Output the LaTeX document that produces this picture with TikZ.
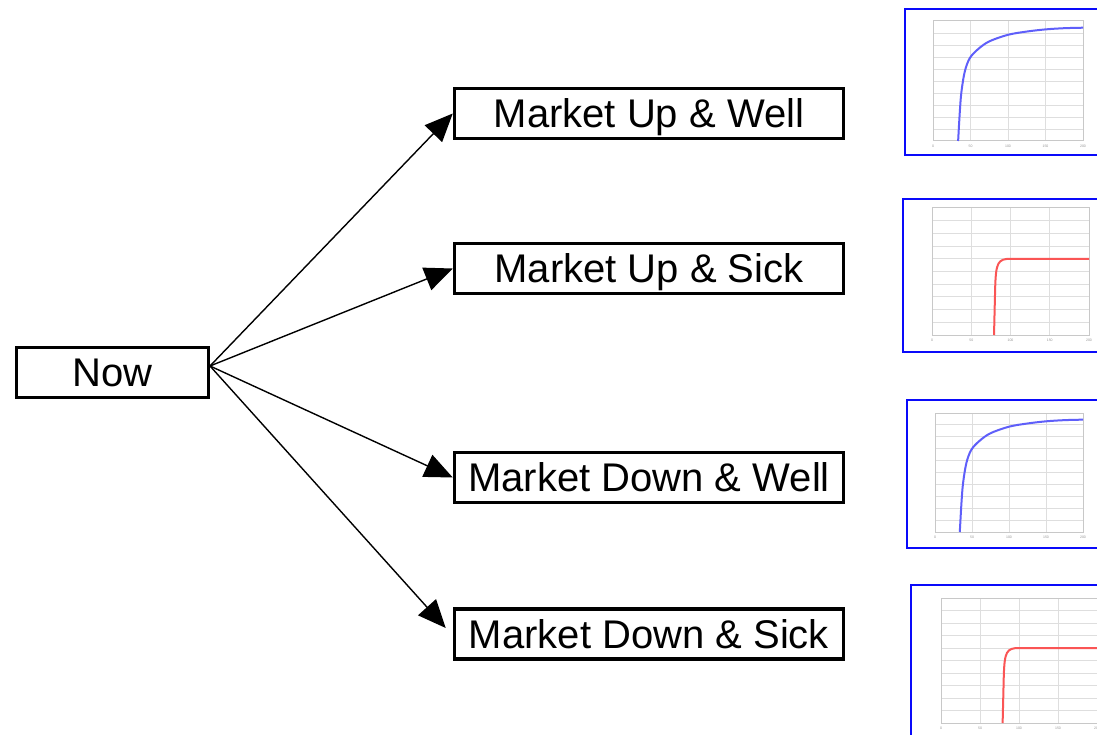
\documentclass[tikz,border=0pt]{standalone}
\usepackage{fontspec}
\setmainfont{Liberation Sans}
\usetikzlibrary{arrows.meta}

\definecolor{framecol}{RGB}{10,10,250}
\definecolor{gridcol}{RGB}{222,222,222}
\definecolor{axiscol}{RGB}{200,200,200}
\definecolor{bluecurve}{RGB}{95,95,250}
\definecolor{redcurve}{RGB}{250,85,85}
\definecolor{tickcol}{RGB}{150,150,150}

\tikzset{
  statebox/.style={draw=black, line width=3.5pt, fill=white, inner sep=0pt,
    minimum height=50pt, font=\fontsize{40}{44}\selectfont,
    text height=28.6pt, text depth=0pt},
  branch/.style={line width=1.4pt, -{Triangle[length=28pt,width=24pt]}},
  chartframe/.style={draw=framecol, line width=2.2pt, fill=white},
  chartgrid/.style={draw=gridcol, line width=0.9pt},
  chartaxes/.style={draw=axiscol, line width=1pt},
  ticklab/.style={font=\fontsize{3.5}{4}\selectfont, text=tickcol, inner sep=0pt},
}

% Utility chart: #1,#2 = lower-left corner of the plot area (px),
% #3 = x scale (pt per unit, x in 0..200), #4 = y scale (pt per unit, y in 0..1),
% #5 = curve drawn inside the plot area
\newcommand\utilchart[5]{%
  \begin{scope}[shift={(#1pt,-#2pt)}, x=#3pt, y=#4pt]
    \foreach \gx in {50,100,150} \draw[chartgrid] (\gx,0) -- (\gx,1);
    \foreach \gy in {0.1,0.2,0.3,0.4,0.5,0.6,0.7,0.8,0.9} \draw[chartgrid] (0,\gy) -- (200,\gy);
    \draw[chartaxes] (0,0) rectangle (200,1);
    \foreach \t in {0,50,100,150,200} \node[ticklab] at (\t,-0.045) {\t};
    #5
  \end{scope}}

\begin{document}
\begin{tikzpicture}[x=1pt, y=-1pt]
  \useasboundingbox (0,0) rectangle (1097,735);

  % decision nodes
  \node[statebox, minimum width=192pt] (now) at (112.5,372.5) {Now};
  \node[statebox, minimum width=389pt] (upwell)   at (649,113.5) {Market Up \& Well};
  \node[statebox, minimum width=389pt] (upsick)   at (649,268.5) {Market Up \& Sick};
  \node[statebox, minimum width=389pt] (downwell) at (649,477.5) {Market Down \& Well};
  \node[statebox, minimum width=389pt] (downsick) at (649,634)   {Market Down \& Sick};

  % branches fanning out from the right side of "Now"
  \coordinate (hub) at (210,366);
  \draw[branch] (hub) -- (upwell.west);
  \draw[branch] (hub) -- (upsick.west);
  \draw[branch] (hub) -- (downwell.west);
  \draw[branch] (hub) -- ([xshift=-7pt,yshift=6pt]downsick.west);

  % chart frames
  \draw[chartframe] (905,9)   rectangle (1110,155);
  \draw[chartframe] (903,199) rectangle (1110,352);
  \draw[chartframe] (907,400) rectangle (1110,548);
  \draw[chartframe] (911,585) rectangle (1110,750);

  % utility curves
  \utilchart{933}{141}{0.75}{120}{%
    \draw[bluecurve, line width=2pt, smooth, tension=0.55] plot coordinates
      {(33.5,0) (35.7,0.24) (37.9,0.41) (42.4,0.58) (49,0.69) (60,0.765)
       (75,0.83) (100,0.885) (125,0.912) (150,0.93) (175,0.94) (200,0.944)};}
  \utilchart{932}{335}{0.785}{127}{%
    \draw[redcurve, line width=2pt] (79,0) -- (80.5,0.38)
      .. controls (81.5,0.57) and (84,0.6) .. (100,0.6) -- (200,0.6);}
  \utilchart{935}{532}{0.74}{119}{%
    \draw[bluecurve, line width=2pt, smooth, tension=0.55] plot coordinates
      {(33.5,0) (35.7,0.24) (37.9,0.41) (42.4,0.58) (49,0.69) (60,0.765)
       (75,0.83) (100,0.885) (125,0.912) (150,0.93) (175,0.94) (200,0.944)};}
  \utilchart{941}{723}{0.78}{125}{%
    \draw[redcurve, line width=2pt] (79,0) -- (80.5,0.38)
      .. controls (81.5,0.57) and (84,0.6) .. (100,0.6) -- (200,0.6);}
\end{tikzpicture}
\end{document}
